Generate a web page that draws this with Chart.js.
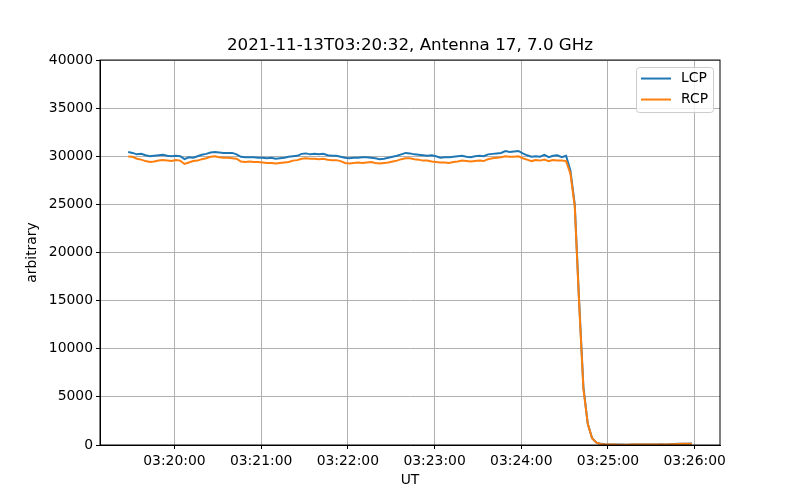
<!DOCTYPE html>
<html>
<head>
<meta charset="utf-8">
<script src="https://cdn.jsdelivr.net/npm/chart.js@4"></script>
<style>
  body { margin: 0; background: #fff; }
  #wrap { width: 800px; height: 500px; }
</style>
</head>
<body>
<div id="wrap"><canvas id="myChart" width="800" height="500"></canvas></div>
<script>
// samples every 3 s, first one at 03:19:28 UT (seconds after 03:00:00)
const startSec = 1168;
const stepSec = 3;

const lcp = [
  30450, 30350, 30200, 30250, 30100, 30000, 30050, 30100, 30150, 30050,
  30000, 30050, 30000, 29700, 29900, 29850, 30000, 30150, 30250, 30400,
  30450, 30400, 30350, 30350, 30350, 30200, 29950, 29900, 29900, 29900,
  29850, 29850, 29800, 29850, 29750, 29800, 29850, 29950, 30000, 30050,
  30250, 30300, 30200, 30250, 30200, 30250, 30100, 30050, 30050, 29950,
  29850, 29800, 29850, 29850, 29900, 29900, 29850, 29800, 29700, 29750,
  29850, 29950, 30050, 30200, 30350, 30300, 30200, 30150, 30100, 30050,
  30100, 30000, 29850, 29900, 29900, 29950, 30000, 30050, 29950, 29900,
  30000, 30050, 30000, 30200, 30250, 30300, 30350, 30550, 30450, 30500,
  30550, 30300, 30100, 29950, 30000, 29950, 30150, 29900, 30050, 30100,
  29900, 30050, 28500, 25000, 15000, 6000, 2200, 700, 250, 120,
  70, 60, 50, 40, 40, 30, 40, 50, 60, 50,
  40, 50, 60, 70, 60, 80, 100, 120, 130, 140,
  150
];

const rcp = [
  29980, 29950, 29750, 29650, 29500, 29400, 29450, 29550, 29600, 29550,
  29500, 29600, 29550, 29200, 29350, 29500, 29550, 29700, 29800, 29950,
  30000, 29900, 29850, 29850, 29800, 29750, 29450, 29400, 29450, 29400,
  29400, 29350, 29300, 29300, 29250, 29300, 29350, 29400, 29550, 29600,
  29750, 29800, 29750, 29750, 29700, 29750, 29650, 29600, 29600, 29500,
  29300, 29250, 29300, 29350, 29300, 29350, 29400, 29300, 29250, 29300,
  29350, 29450, 29550, 29700, 29800, 29800, 29700, 29650, 29550, 29550,
  29450, 29400, 29350, 29350, 29300, 29400, 29450, 29550, 29500, 29450,
  29500, 29550, 29500, 29700, 29800, 29850, 29900, 30000, 29950, 29950,
  30000, 29800, 29650, 29500, 29600, 29550, 29650, 29500, 29600, 29550,
  29550, 29500, 28200, 24800, 14800, 5800, 2200, 700, 250, 110,
  60, 50, 40, 30, 30, 30, 40, 40, 50, 40,
  40, 40, 50, 60, 60, 70, 90, 110, 120, 130,
  140
];

const seriesNames = ['LCP', 'RCP'];
const seriesColors = ['#1f77b4', '#ff7f0e'];
const xTickSec = [1200, 1260, 1320, 1380, 1440, 1500, 1560];
const yTicks = [0, 5000, 10000, 15000, 20000, 25000, 30000, 35000, 40000];

const times = lcp.map((_, i) => startSec + i * stepSec);
const span = times[times.length - 1] - times[0];

function hms(s) {
  const h = Math.floor(s / 3600), m = Math.floor(s / 60) % 60, sec = s % 60;
  const p = n => String(n).padStart(2, '0');
  return p(h + 3) + ':' + p(m) + ':' + p(sec);
}

const FONT = 'DejaVu Sans';
Chart.defaults.font.family = FONT;
Chart.defaults.color = '#000';

// matplotlib-like frame and legend box inside the axes
const frameLegend = {
  id: 'frameLegend',
  afterDraw(chart) {
    const {ctx, chartArea: a} = chart;
    ctx.save();
    ctx.strokeStyle = '#000';
    ctx.lineWidth = 1;
    ctx.strokeRect(a.left, a.top, a.right - a.left, a.bottom - a.top);

    const bx = a.right - 84, by = a.top + 7, bw = 77, bh = 45;
    ctx.fillStyle = 'rgba(255,255,255,0.8)';
    ctx.strokeStyle = '#cccccc';
    ctx.lineWidth = 1;
    ctx.beginPath();
    ctx.roundRect(bx + 0.5, by + 0.5, bw, bh, 3);
    ctx.fill();
    ctx.stroke();

    ctx.font = '13.9px "' + FONT + '"';
    ctx.textBaseline = 'middle';
    seriesNames.forEach((name, i) => {
      const y = by + 11.5 + i * 21;
      ctx.strokeStyle = seriesColors[i];
      ctx.lineWidth = 2;
      ctx.beginPath();
      ctx.moveTo(bx + 5, y);
      ctx.lineTo(bx + 35, y);
      ctx.stroke();
      ctx.fillStyle = '#000';
      ctx.fillText(name, bx + 45, y);
    });
    ctx.restore();
  }
};

const data = {
  datasets: [lcp, rcp].map((vals, i) => ({
    label: seriesNames[i],
    data: vals.map((v, j) => ({x: times[j], y: v})),
    borderColor: seriesColors[i],
    backgroundColor: seriesColors[i],
    borderWidth: 2,
    pointRadius: 0,
    tension: 0,
    order: 1 - i,  // RCP drawn over LCP, as in the original
  }))
};

const config = {
  type: 'line',
  data: data,
  options: {
    responsive: false,
    animation: false,
    layout: { padding: { left: 0, right: 80, top: 0, bottom: 0 } },
    plugins: {
      legend: { display: false },
      tooltip: { enabled: false },
      title: {
        display: true,
        fullSize: false,
        text: '2021-11-13T03:20:32, Antenna 17, 7.0 GHz',
        color: '#000',
        font: { size: 16.7, weight: 'normal' },
        padding: { top: 36, bottom: 4 },
      },
    },
    scales: {
      x: {
        type: 'linear',
        min: times[0] - span * 0.05,
        max: times[times.length - 1] + span * 0.05,
        afterBuildTicks: s => { s.ticks = xTickSec.map(v => ({value: v})); },
        afterFit: s => { s.height = 55; },
        ticks: {
          callback: v => hms(v),
          font: { size: 13.9 },
          color: '#000',
          padding: 4,
          maxRotation: 0,
          autoSkip: false,
        },
        grid: { color: '#b0b0b0', lineWidth: 1, tickColor: '#000', tickLength: 4 },
        border: { color: '#000', width: 1 },
        title: {
          display: true, text: 'UT', color: '#000',
          font: { size: 13.9 }, padding: { top: 0, bottom: 11 },
        },
      },
      y: {
        min: 0,
        max: 40000,
        afterBuildTicks: s => { s.ticks = yTicks.map(v => ({value: v})); },
        afterFit: s => { s.width = 100; },
        ticks: {
          callback: v => String(v),
          font: { size: 13.9 },
          color: '#000',
          padding: 3,
        },
        grid: { color: '#b0b0b0', lineWidth: 1, tickColor: '#000', tickLength: 4 },
        border: { color: '#000', width: 1 },
        title: {
          display: true, text: 'arbitrary', color: '#000',
          font: { size: 13.9 }, padding: { top: 24, bottom: 4 },
        },
      },
    },
  },
  plugins: [frameLegend],
};

const myChart = new Chart(document.getElementById('myChart'), config);
</script>
</body>
</html>
